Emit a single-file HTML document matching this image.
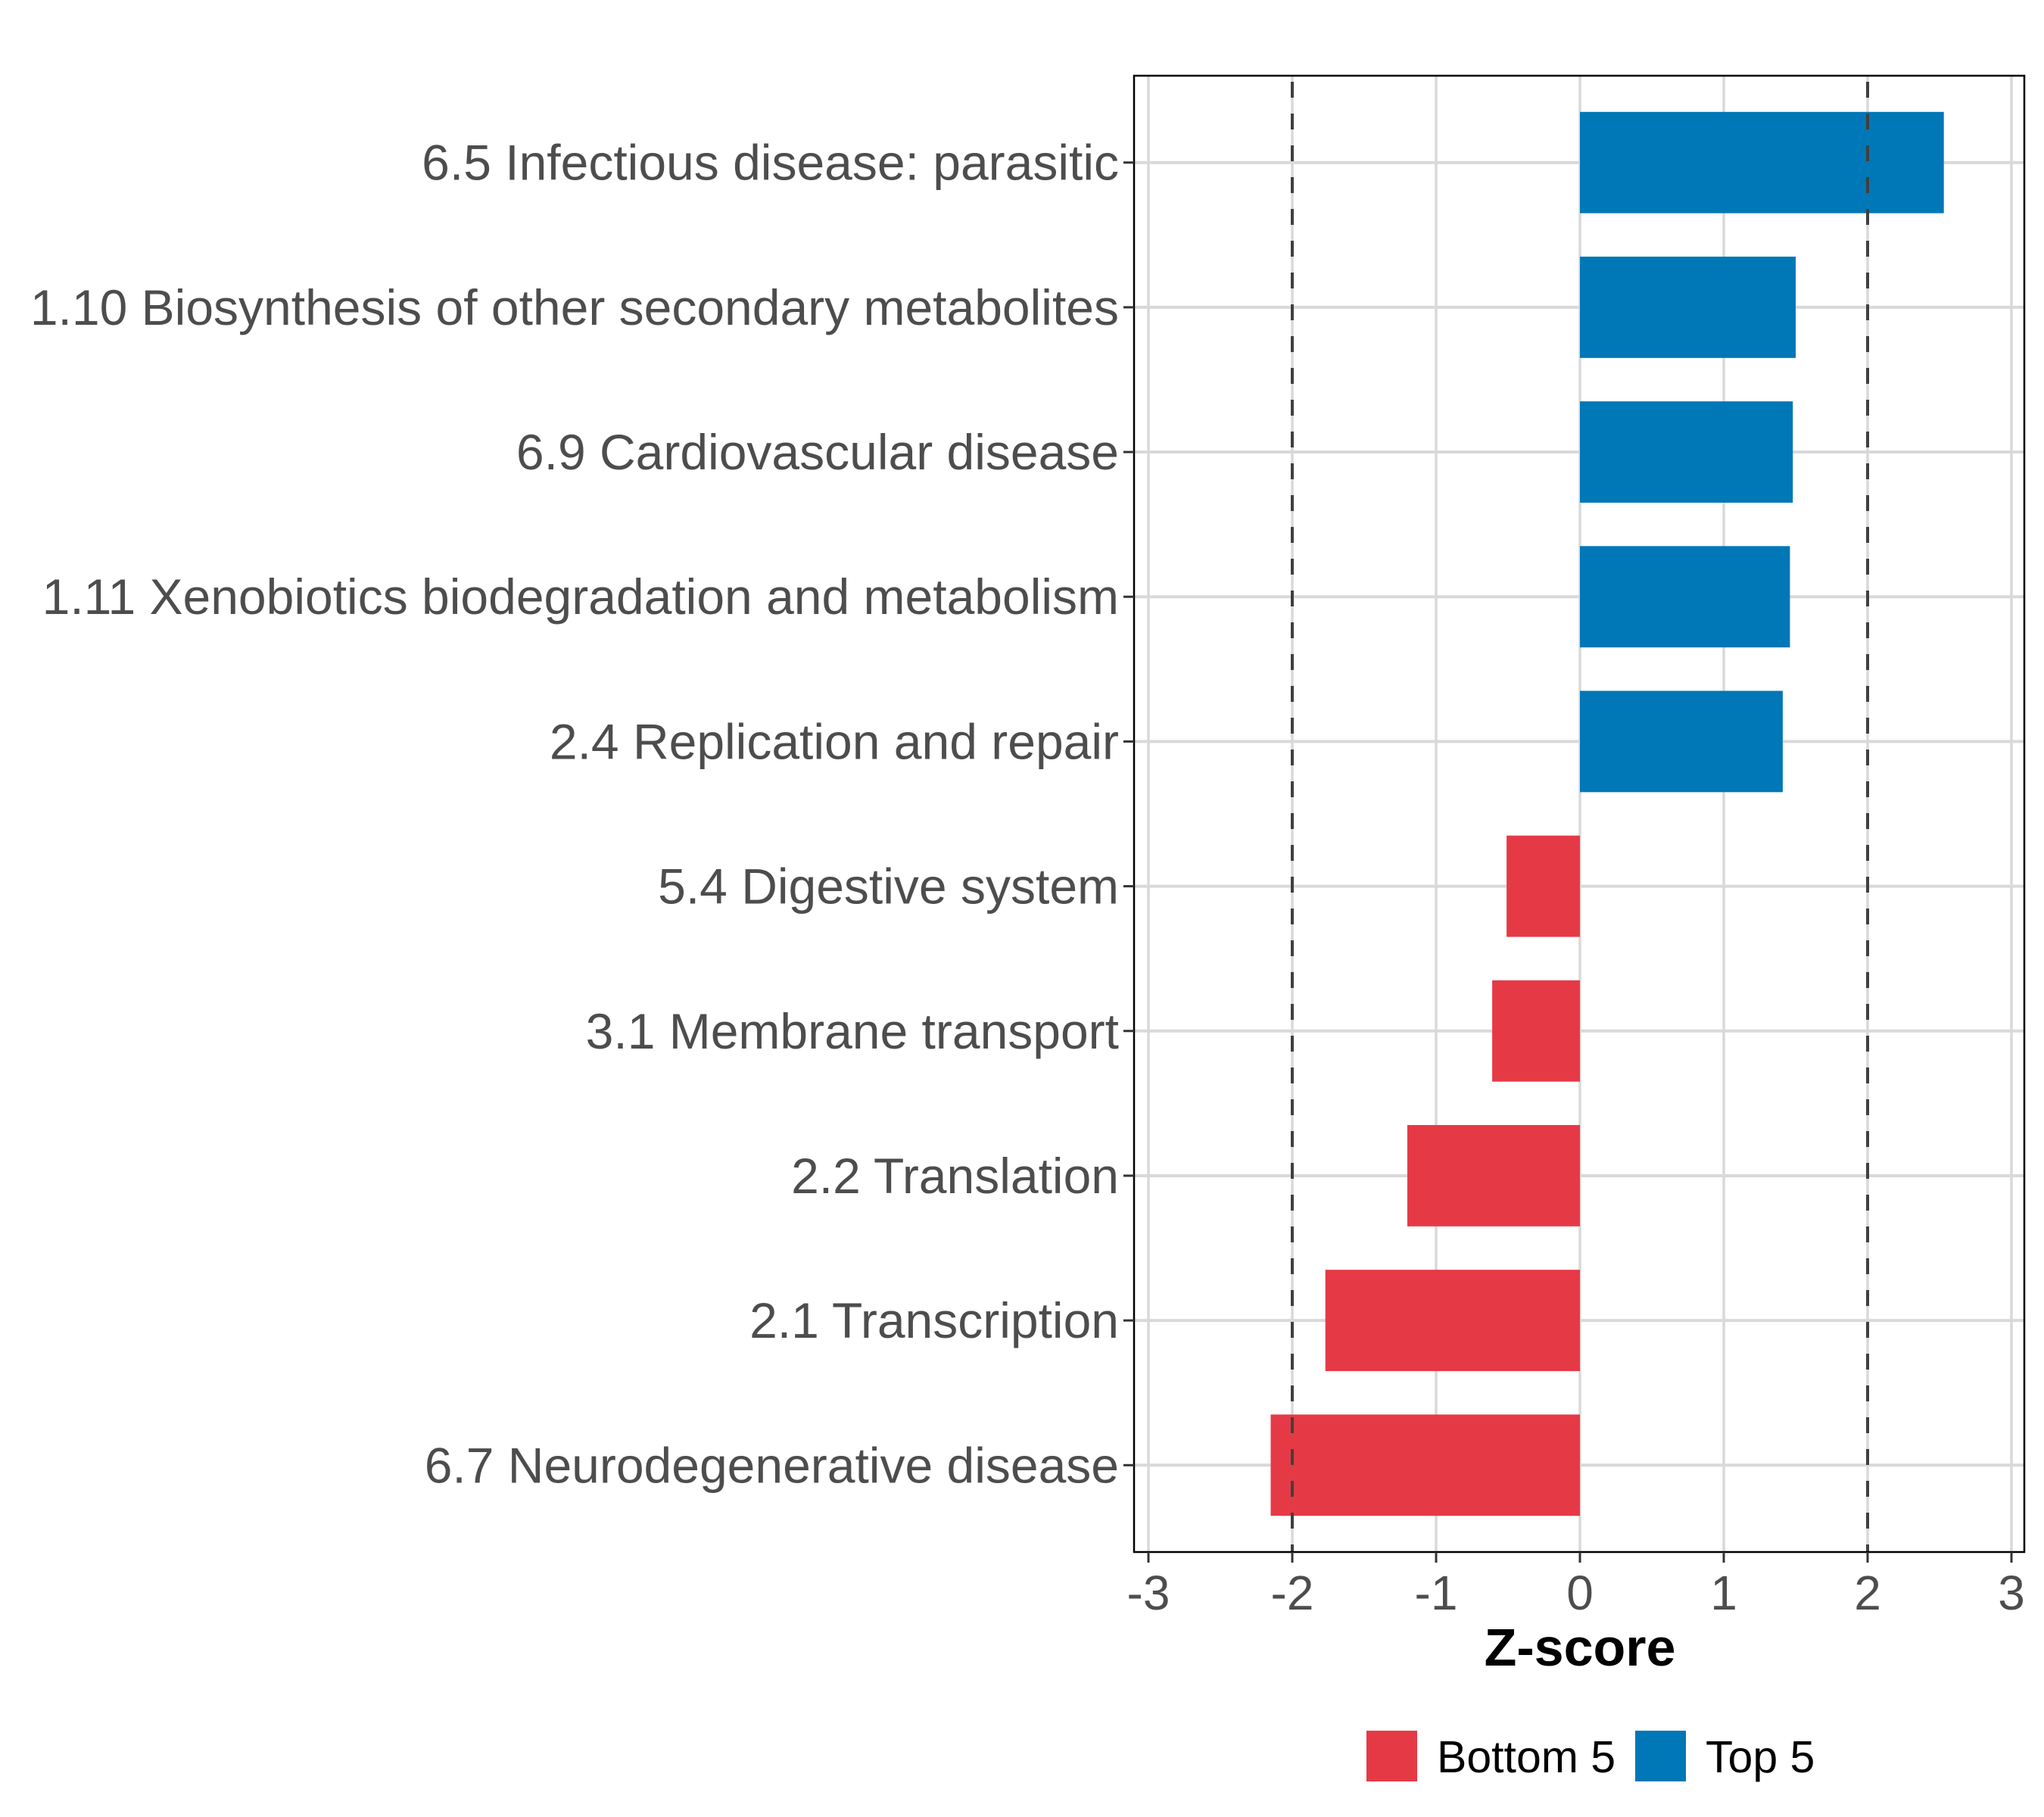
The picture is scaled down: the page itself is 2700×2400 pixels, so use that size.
<!DOCTYPE html>
<html><head><meta charset="utf-8"><style>
html,body{margin:0;padding:0;background:#fff;}
svg{display:block;font-family:"Liberation Sans",Arial,sans-serif;}
</style></head><body>
<svg id="chart" width="2700" height="2400" viewBox="0 0 2700 2400" xmlns="http://www.w3.org/2000/svg">
<g id="grid"></g>
<g id="bars"></g>
<g id="refs"></g>
<rect x="1498" y="100" width="1176" height="1950" fill="none" stroke="#000" stroke-width="2.5"/>
<g id="yaxis"></g>
<g id="xaxis"></g>
<text x="2087" y="2200" text-anchor="middle" font-size="70" font-weight="bold" fill="#000">Z-score</text>
<g>
<rect x="1805" y="2286" width="67" height="67" fill="#E63946"/>
<text x="1898" y="2341" font-size="59" fill="#000">Bottom 5</text>
<rect x="2160" y="2286" width="67" height="67" fill="#0077B6"/>
<text x="2253" y="2341" font-size="59" fill="#000">Top 5</text>
</g>
</svg>
<script>
const categories = ["6.5 Infectious disease: parasitic","1.10 Biosynthesis of other secondary metabolites","6.9 Cardiovascular disease","1.11 Xenobiotics biodegradation and metabolism","2.4 Replication and repair","5.4 Digestive system","3.1 Membrane transport","2.2 Translation","2.1 Transcription","6.7 Neurodegenerative disease"];
const values = [2.53, 1.50, 1.48, 1.46, 1.41, -0.51, -0.61, -1.20, -1.77, -2.15];
const groups = ["Top 5","Top 5","Top 5","Top 5","Top 5","Bottom 5","Bottom 5","Bottom 5","Bottom 5","Bottom 5"];
const xTicks = [-3,-2,-1,0,1,2,3];
const xTickLabels = ["-3","-2","-1","0","1","2","3"];
const refLines = [-2, 2];

const NS="http://www.w3.org/2000/svg";
const X0=2087, UNIT=190;
const LEFT=1498, RIGHT=2674;
function xs(v){return X0+v*UNIT;}
const TOP=100, BOT=2050, n=categories.length;
const step=(BOT-TOP)/(n-1+1.2);
function ys(i){return TOP+0.6*step+i*step;}
function mk(tag,attrs,parent){const e=document.createElementNS(NS,tag);for(const k in attrs)e.setAttribute(k,attrs[k]);parent.appendChild(e);return e;}
const grid=document.getElementById('grid'),bars=document.getElementById('bars'),refs=document.getElementById('refs'),ya=document.getElementById('yaxis'),xa=document.getElementById('xaxis');
xTicks.forEach((t,i)=>{
  const g=mk('line',{x1:xs(t),x2:xs(t),y1:TOP,y2:BOT,stroke:'#d9d9d9','stroke-width':3.5},grid);
  
  
  const tk=mk('line',{x1:xs(t),x2:xs(t),y1:BOT,y2:BOT+14,stroke:'#333','stroke-width':3},xa);
  
  
  const tl=mk('text',{x:xs(t),y:2126,'text-anchor':'middle','font-size':64,fill:'#4d4d4d'},xa);
  tl.textContent=xTickLabels[i];
  
  
});
categories.forEach((c,i)=>{
  const y=ys(i);
  const g=mk('line',{x1:LEFT,x2:RIGHT,y1:y,y2:y,stroke:'#d9d9d9','stroke-width':4},grid);
  
  
  const v=values[i],h=step*0.7;
  const b=mk('rect',{x:Math.min(xs(0),xs(v)),y:y-h/2,width:Math.abs(xs(v)-xs(0)),height:h,fill:groups[i]==='Top 5'?'#0077B6':'#E63946'},bars);
  
  
  const tk=mk('line',{x1:LEFT-14,x2:LEFT,y1:y,y2:y,stroke:'#333','stroke-width':3},ya);
  
  
  const tl=mk('text',{x:LEFT-20,y:y+23,'text-anchor':'end','font-size':66,fill:'#4d4d4d'},ya);
  tl.textContent=c;
  
  
});
refLines.forEach(r=>{
  const l=mk('line',{x1:xs(r),x2:xs(r),y1:TOP,y2:BOT,stroke:'#404040','stroke-width':4,'stroke-dasharray':'21 21','stroke-dashoffset':'-8'},refs);
  
  
});
</script>
</body></html>
